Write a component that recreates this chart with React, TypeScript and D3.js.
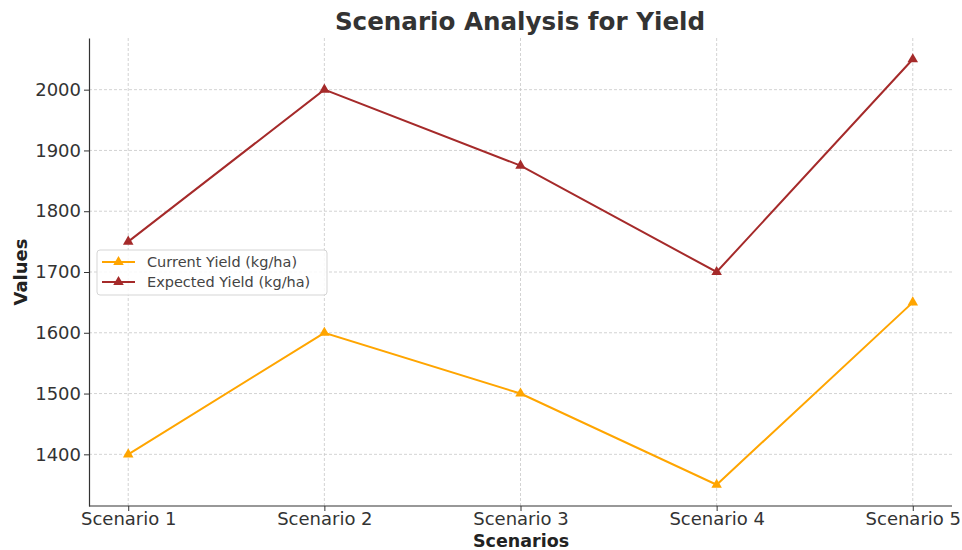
import React, { useEffect, useRef } from 'react';
import * as d3 from 'd3';

const scenarios = ['Scenario 1', 'Scenario 2', 'Scenario 3', 'Scenario 4', 'Scenario 5'];
const currentYield = [1400, 1600, 1500, 1350, 1650];
const expectedYield = [1750, 2000, 1875, 1700, 2050];
const yTicks = [1400, 1500, 1600, 1700, 1800, 1900, 2000];
const seriesNames = ['Current Yield (kg/ha)', 'Expected Yield (kg/ha)'];
const seriesColors = ['#FFA500', '#A52A2A'];

const App = () => {
  const svgRef = useRef<SVGSVGElement>(null);

  useEffect(() => {
    const width = 962;
    const height = 550;
    const margin = { top: 38, right: 10, bottom: 44, left: 89 };
    const font = 'DejaVu Sans, sans-serif';

    const svg = d3.select(svgRef.current);
    svg.selectAll('*').remove();
    svg.attr('width', width).attr('height', height);

    const innerW = width - margin.left - margin.right;
    const innerH = height - margin.top - margin.bottom;

    const chart = svg.append('g').attr('transform', `translate(${margin.left},${margin.top})`);

    // point scale with matplotlib-like 5% padding
    const xLin = d3.scaleLinear().domain([-0.2, 4.2]).range([0, innerW]);
    const x = (i: number) => xLin(i);

    const allVals = [...currentYield, ...expectedYield];
    const lo = d3.min(allVals)!;
    const hi = d3.max(allVals)!;
    const pad = (hi - lo) * 0.05;
    const y = d3.scaleLinear().domain([lo - pad, hi + pad]).range([innerH, 0]);

    // grid
    chart.append('g')
      .selectAll('line')
      .data(scenarios)
      .enter()
      .append('line')
      .attr('x1', (d, i) => x(i)).attr('x2', (d, i) => x(i))
      .attr('y1', 0).attr('y2', innerH)
      .attr('stroke', '#c8c8c8').attr('stroke-width', 0.8).attr('stroke-dasharray', '3,2');

    chart.append('g')
      .selectAll('line')
      .data(yTicks)
      .enter()
      .append('line')
      .attr('x1', 0).attr('x2', innerW)
      .attr('y1', d => y(d)).attr('y2', d => y(d))
      .attr('stroke', '#c8c8c8').attr('stroke-width', 0.8).attr('stroke-dasharray', '3,2');

    // axes
    const xAxis = chart.append('g')
      .attr('transform', `translate(0,${innerH})`)
      .call(d3.axisBottom(xLin).tickValues([0, 1, 2, 3, 4]).tickFormat((d: any) => scenarios[d]).tickSize(5).tickPadding(1).tickSizeOuter(0));
    xAxis.select('.domain').attr('stroke', '#333').attr('stroke-width', 1.2).attr('d', `M0,0H${innerW}`);
    xAxis.selectAll('.tick line').attr('stroke', '#333');
    xAxis.selectAll('text').attr('font-family', font).attr('font-size', 18).attr('fill', '#333');

    const yAxis = chart.append('g')
      .call(d3.axisLeft(y).tickValues(yTicks).tickFormat(d3.format('d')).tickSize(5).tickSizeOuter(0));
    yAxis.select('.domain').attr('stroke', '#333').attr('stroke-width', 1.2);
    yAxis.selectAll('.tick line').attr('stroke', '#333');
    yAxis.selectAll('text').attr('font-family', font).attr('font-size', 18).attr('fill', '#333');

    // lines
    const series = [currentYield, expectedYield];
    const line = d3.line<number>().x((d, i) => x(i)).y(d => y(d));
    const tri = d3.symbol().type(d3.symbolTriangle).size(48);

    series.forEach((vals, si) => {
      chart.append('path')
        .datum(vals)
        .attr('d', line)
        .attr('fill', 'none')
        .attr('stroke', seriesColors[si])
        .attr('stroke-width', 2);

      chart.selectAll(`.m${si}`)
        .data(vals)
        .enter()
        .append('path')
        .attr('class', `m${si}`)
        .attr('d', tri)
        .attr('transform', (d, i) => `translate(${x(i)},${y(d)})`)
        .attr('fill', seriesColors[si]);
    });

    // legend
    const lg = svg.append('g').attr('transform', 'translate(97,250)');
    lg.append('rect')
      .attr('width', 230).attr('height', 45).attr('rx', 3)
      .attr('fill', 'white').attr('fill-opacity', 0.85)
      .attr('stroke', '#d5d5d5');
    seriesNames.forEach((name, i) => {
      const ly = 12 + i * 20;
      lg.append('line')
        .attr('x1', 5).attr('x2', 38).attr('y1', ly).attr('y2', ly)
        .attr('stroke', seriesColors[i]).attr('stroke-width', 2);
      lg.append('path')
        .attr('d', tri)
        .attr('transform', `translate(21.5,${ly})`)
        .attr('fill', seriesColors[i]);
      lg.append('text')
        .attr('x', 50).attr('y', ly).attr('dy', '0.35em')
        .attr('font-family', font).attr('font-size', 14.5).attr('fill', '#444')
        .text(name);
    });

    // title and labels
    svg.append('text')
      .attr('x', 520).attr('y', 30)
      .attr('text-anchor', 'middle')
      .attr('font-family', font).attr('font-weight', 'bold').attr('font-size', 24.6)
      .attr('fill', '#333')
      .text('Scenario Analysis for Yield');

    svg.append('text')
      .attr('x', 521).attr('y', 547)
      .attr('text-anchor', 'middle')
      .attr('font-family', font).attr('font-weight', 'bold').attr('font-size', 17.5)
      .attr('fill', '#222')
      .text('Scenarios');

    svg.append('text')
      .attr('transform', 'rotate(-90)')
      .attr('x', -272).attr('y', 27)
      .attr('text-anchor', 'middle')
      .attr('font-family', font).attr('font-weight', 'bold').attr('font-size', 18)
      .attr('fill', '#222')
      .text('Values');
  }, []);

  return (
    <svg ref={svgRef} width={962} height={550} style={{ position: 'absolute', left: 0, top: 0, background: 'white' }}></svg>
  );
};

export default App;
